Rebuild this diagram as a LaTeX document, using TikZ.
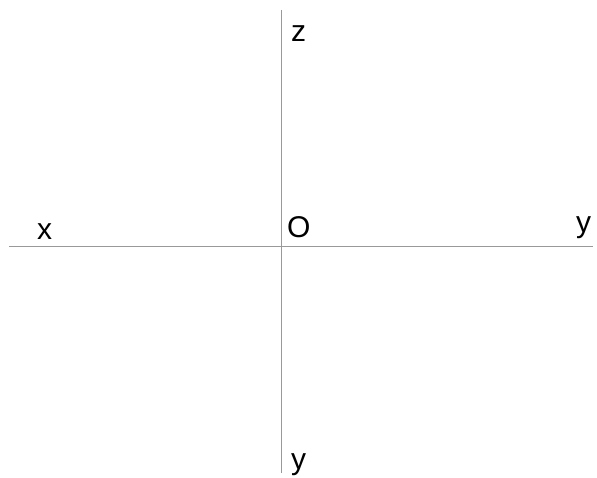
\documentclass[tikz,border=0pt]{standalone}
\usepackage{fontspec}
\setmainfont{Liberation Sans}
\begin{document}
\begin{tikzpicture}[x=1pt,y=-1pt,
  axis/.style={draw=gray!80,line width=0.9pt},
  lbl/.style={font=\fontsize{30}{32}\selectfont,inner sep=0pt,anchor=base west}]
\useasboundingbox[fill=white] (0,0) rectangle (597,478);
\coordinate (L) at (9,246);
\coordinate (R) at (593,246);
\coordinate (T) at (281,10);
\coordinate (B) at (281,473);
\draw[axis] (L) -- (R);
\draw[axis] (T) -- (B);
\node[lbl] (lx) at (37,240) {x};
\node[lbl] (lo) at (287,238) {O};
\node[lbl] (ly) at (576,233) {y};
\node[lbl] (lz) at (291,42) {z};
\node[lbl] (ly2) at (291,469) {y};
\end{tikzpicture}
\end{document}
